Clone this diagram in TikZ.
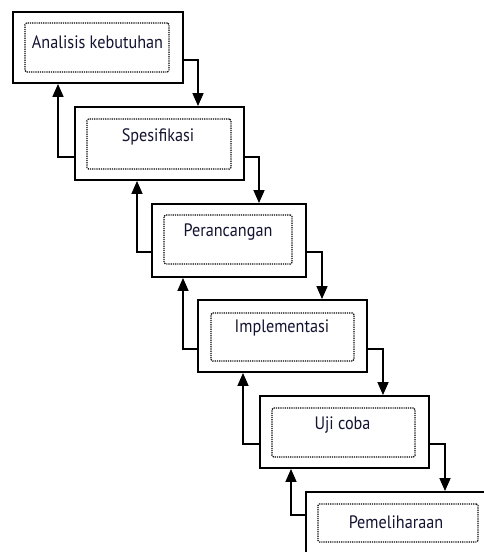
\documentclass[tikz,border=0pt]{standalone}
\usepackage{fontspec}
\setmainfont{PT Sans}
\usetikzlibrary{arrows.meta}
\definecolor{txt}{RGB}{20,20,50}
\newcommand{\sq}[1]{\scalebox{0.9}[1]{#1}}
\begin{document}
\begin{tikzpicture}[x=1pt,y=-1pt,
  outer/.style={draw=black,line width=1.9pt,fill=white,minimum width=#1,inner sep=0pt},
  inner/.style={draw=black,line width=1.2pt,dash pattern=on 1.2pt off 1pt,rounded corners=1.5pt,inner sep=0pt},
  lbl/.style={text=txt,font=\fontsize{18}{21}\selectfont,inner sep=0pt},
  conn/.style={draw=black,line width=1.6pt,-{Triangle[width=11pt,length=13pt]}}]
\clip (0,0) rectangle (484,552);
\fill[white] (0,0) rectangle (484,552);
% outer boxes
\node[outer=170pt,minimum height=71pt] (b1) at (98,47.5) {};
\node[outer=169pt,minimum height=73pt] (b2) at (159.5,143.5) {};
\node[outer=154pt,minimum height=73pt] (b3) at (229,240.5) {};
\node[outer=169pt,minimum height=72pt] (b4) at (282.5,336) {};
\node[outer=169pt,minimum height=72pt] (b5) at (344.5,432) {};
\node[outer=185pt,minimum height=72pt] (b6) at (398.5,528) {};
% inner dotted boxes
\node[inner,minimum width=144pt,minimum height=49pt] (i1) at (97,47.5) {};
\node[inner,minimum width=144pt,minimum height=50pt] (i2) at (159,144) {};
\node[inner,minimum width=128pt,minimum height=49pt] (i3) at (228,239.5) {};
\node[inner,minimum width=143pt,minimum height=48pt] (i4) at (282.5,337) {};
\node[inner,minimum width=143pt,minimum height=49pt] (i5) at (343.5,432.5) {};
\node[inner,minimum width=160pt,minimum height=38pt] (i6) at (398,523) {};
% labels
\node[lbl] (t1) at (97.5,42) {\sq{Analisis kebutuhan}};
\node[lbl] (t2) at (158,137) {\sq{Spesifikasi}};
\node[lbl] (t3) at (228,232) {\sq{Perancangan}};
\node[lbl] (t4) at (282,328) {\sq{Implementasi}};
\node[lbl] (t5) at (342.5,425) {\sq{Uji coba}};
\node[lbl] (t6) at (396,522) {\sq{Pemeliharaan}};
% forward connectors
\draw[conn] ([yshift=-12.5pt]b1.east) -| ([xshift=38.5pt]b2.north);
\draw[conn] ([yshift=-13.5pt]b2.east) -| ([xshift=30pt]b3.north);
\draw[conn] ([yshift=-11.5pt]b3.east) -| ([xshift=39.5pt]b4.north);
\draw[conn] ([yshift=-13pt]b4.east) -| ([xshift=38.5pt]b5.north);
\draw[conn] ([yshift=-12pt]b5.east) -| ([xshift=46.5pt]b6.north);
% backward connectors
\draw[conn] ([yshift=-13.5pt]b2.west) -| ([xshift=-40pt]b1.south);
\draw[conn] ([yshift=-11.5pt]b3.west) -| ([xshift=-22.5pt]b2.south);
\draw[conn] ([yshift=-13pt]b4.west) -| ([xshift=-46pt]b3.south);
\draw[conn] ([yshift=-12pt]b5.west) -| ([xshift=-39.5pt]b4.south);
\draw[conn] ([yshift=13pt]b6.west) -| ([xshift=-53.5pt]b5.south);
\end{tikzpicture}
\end{document}
